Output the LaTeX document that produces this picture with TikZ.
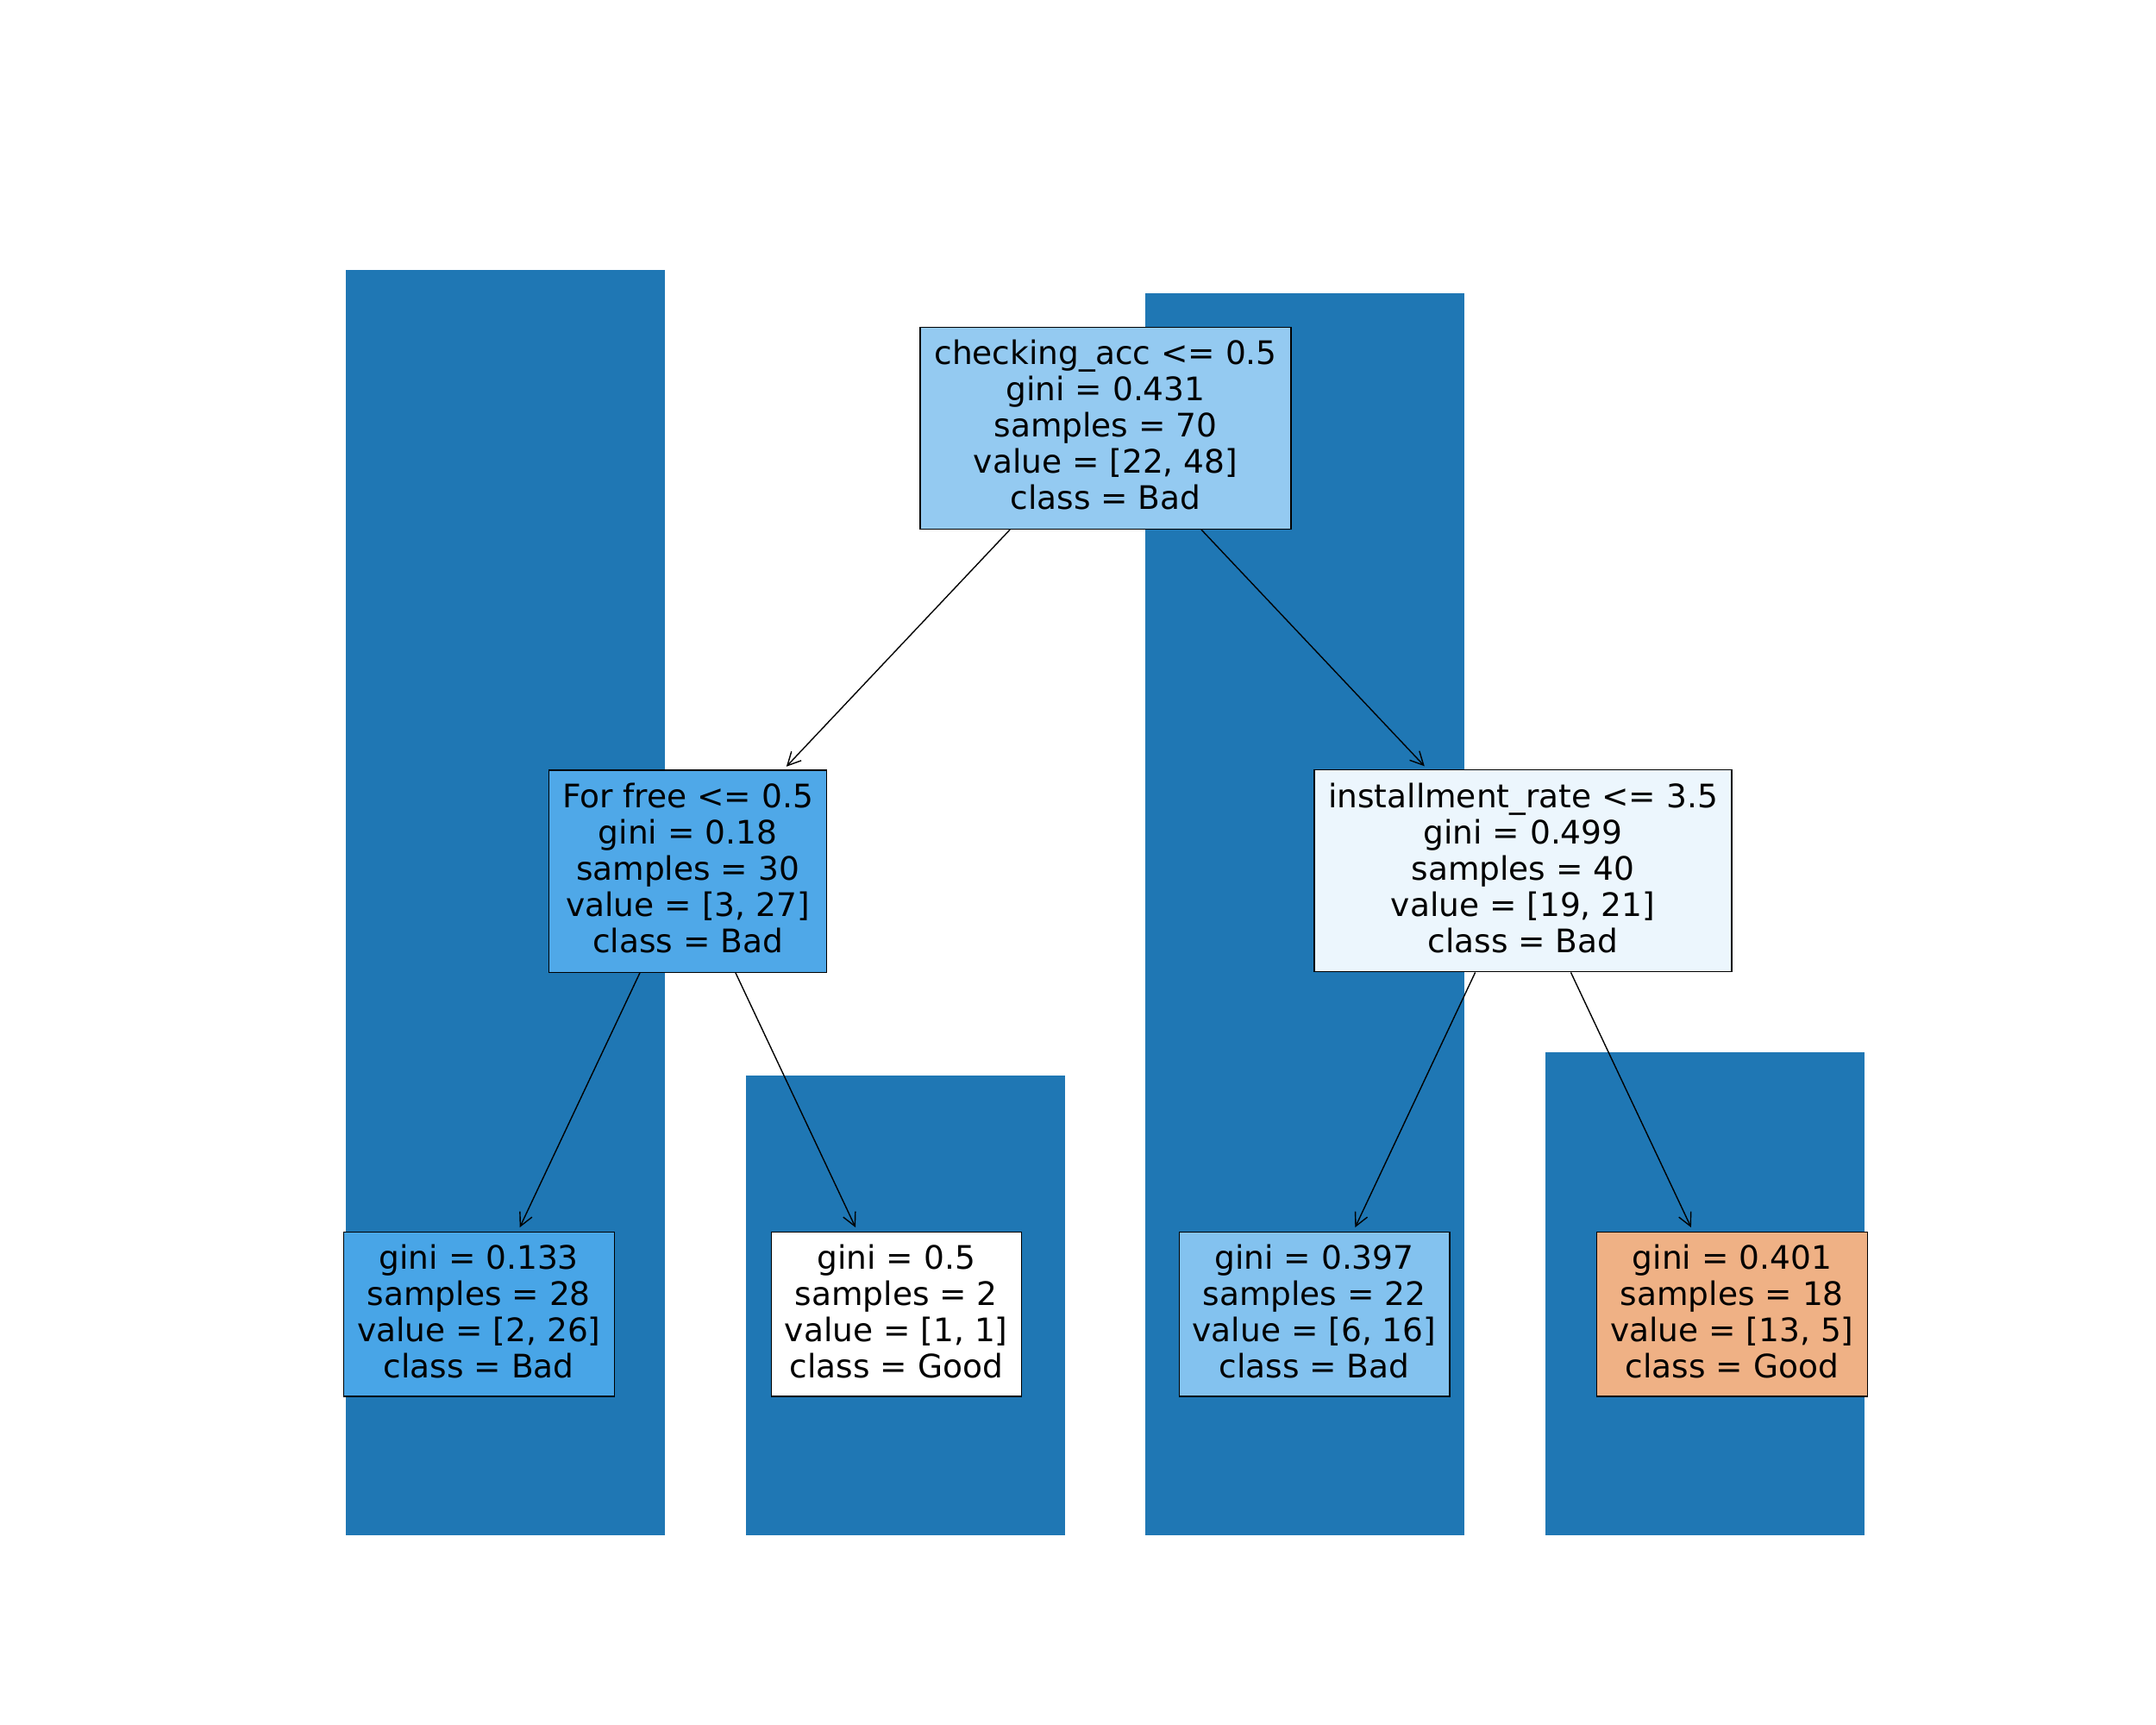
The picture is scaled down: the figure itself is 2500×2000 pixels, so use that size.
\documentclass[tikz,border=0pt]{standalone}
\usepackage{fontspec}
\setmainfont{DejaVu Sans}
\usetikzlibrary{arrows.meta}

\definecolor{barblue}{RGB}{31,119,180}
\definecolor{rootfill}{RGB}{148,202,241}
\definecolor{freefill}{RGB}{79,168,232}
\definecolor{ratefill}{RGB}{236,246,253}
\definecolor{leafa}{RGB}{72,165,231}
\definecolor{leafb}{RGB}{255,255,255}
\definecolor{leafc}{RGB}{131,194,239}
\definecolor{leafd}{RGB}{239,177,133}

% strut with the ascent and descent of the text lines
\newcommand\linestrut{\rule[-0.208em]{0pt}{0.968em}}

\tikzset{
  bar/.style={fill=barblue, draw=none},
  treenode/.style={rectangle, draw=black, line width=0.4pt, inner sep=0pt,
    align=center, font=\fontsize{10.67pt}{11.95pt}\selectfont},
  splitnode/.style={treenode, minimum height=2.34cm},
  leafnode/.style={treenode, minimum height=1.907cm},
  treearrow/.style={-{Straight Barb[length=0.153cm,width=0.155cm]},
    line width=0.4pt, shorten >=0.05cm}
}

\begin{document}
\begin{tikzpicture}[x=0.01cm, y=-0.01cm]
  \useasboundingbox (0,0) rectangle (2500,2000);

  % bar chart in the background
  \fill[bar] (401,313)    rectangle (771,1780);
  \fill[bar] (864.5,1247.3) rectangle (1234.5,1780);
  \fill[bar] (1328,340)   rectangle (1698,1780);
  \fill[bar] (1791.5,1220) rectangle (2161.5,1780);

  % decision tree
  \node[splitnode, fill=rootfill, minimum width=4.294cm] (root) at (1282,496.3)
    {\linestrut checking\_acc <= 0.5\\gini = 0.431\\samples = 70\\value = [22, 48]\\class = Bad\linestrut};
  \node[splitnode, fill=freefill, minimum width=3.216cm] (free) at (797.5,1010.2)
    {\linestrut For free <= 0.5\\gini = 0.18\\samples = 30\\value = [3, 27]\\class = Bad\linestrut};
  \node[splitnode, fill=ratefill, minimum width=4.834cm] (rate) at (1766,1009.7)
    {\linestrut installment\_rate <= 3.5\\gini = 0.499\\samples = 40\\value = [19, 21]\\class = Bad\linestrut};

  \node[leafnode, fill=leafa, minimum width=3.14cm] (leafA) at (555.3,1523.7)
    {\linestrut gini = 0.133\\samples = 28\\value = [2, 26]\\class = Bad\linestrut};
  \node[leafnode, fill=leafb, minimum width=2.90cm] (leafB) at (1039.3,1523.7)
    {\linestrut gini = 0.5\\samples = 2\\value = [1, 1]\\class = Good\linestrut};
  \node[leafnode, fill=leafc, minimum width=3.134cm] (leafC) at (1524,1523.7)
    {\linestrut gini = 0.397\\samples = 22\\value = [6, 16]\\class = Bad\linestrut};
  \node[leafnode, fill=leafd, minimum width=3.14cm] (leafD) at (2008.3,1523.7)
    {\linestrut gini = 0.401\\samples = 18\\value = [13, 5]\\class = Good\linestrut};

  % splits
  \draw[treearrow] (root) -- (free);
  \draw[treearrow] (root) -- (rate);
  \draw[treearrow] (free) -- (leafA);
  \draw[treearrow] (free) -- (leafB);
  \draw[treearrow] (rate) -- (leafC);
  \draw[treearrow] (rate) -- (leafD);
\end{tikzpicture}
\end{document}
